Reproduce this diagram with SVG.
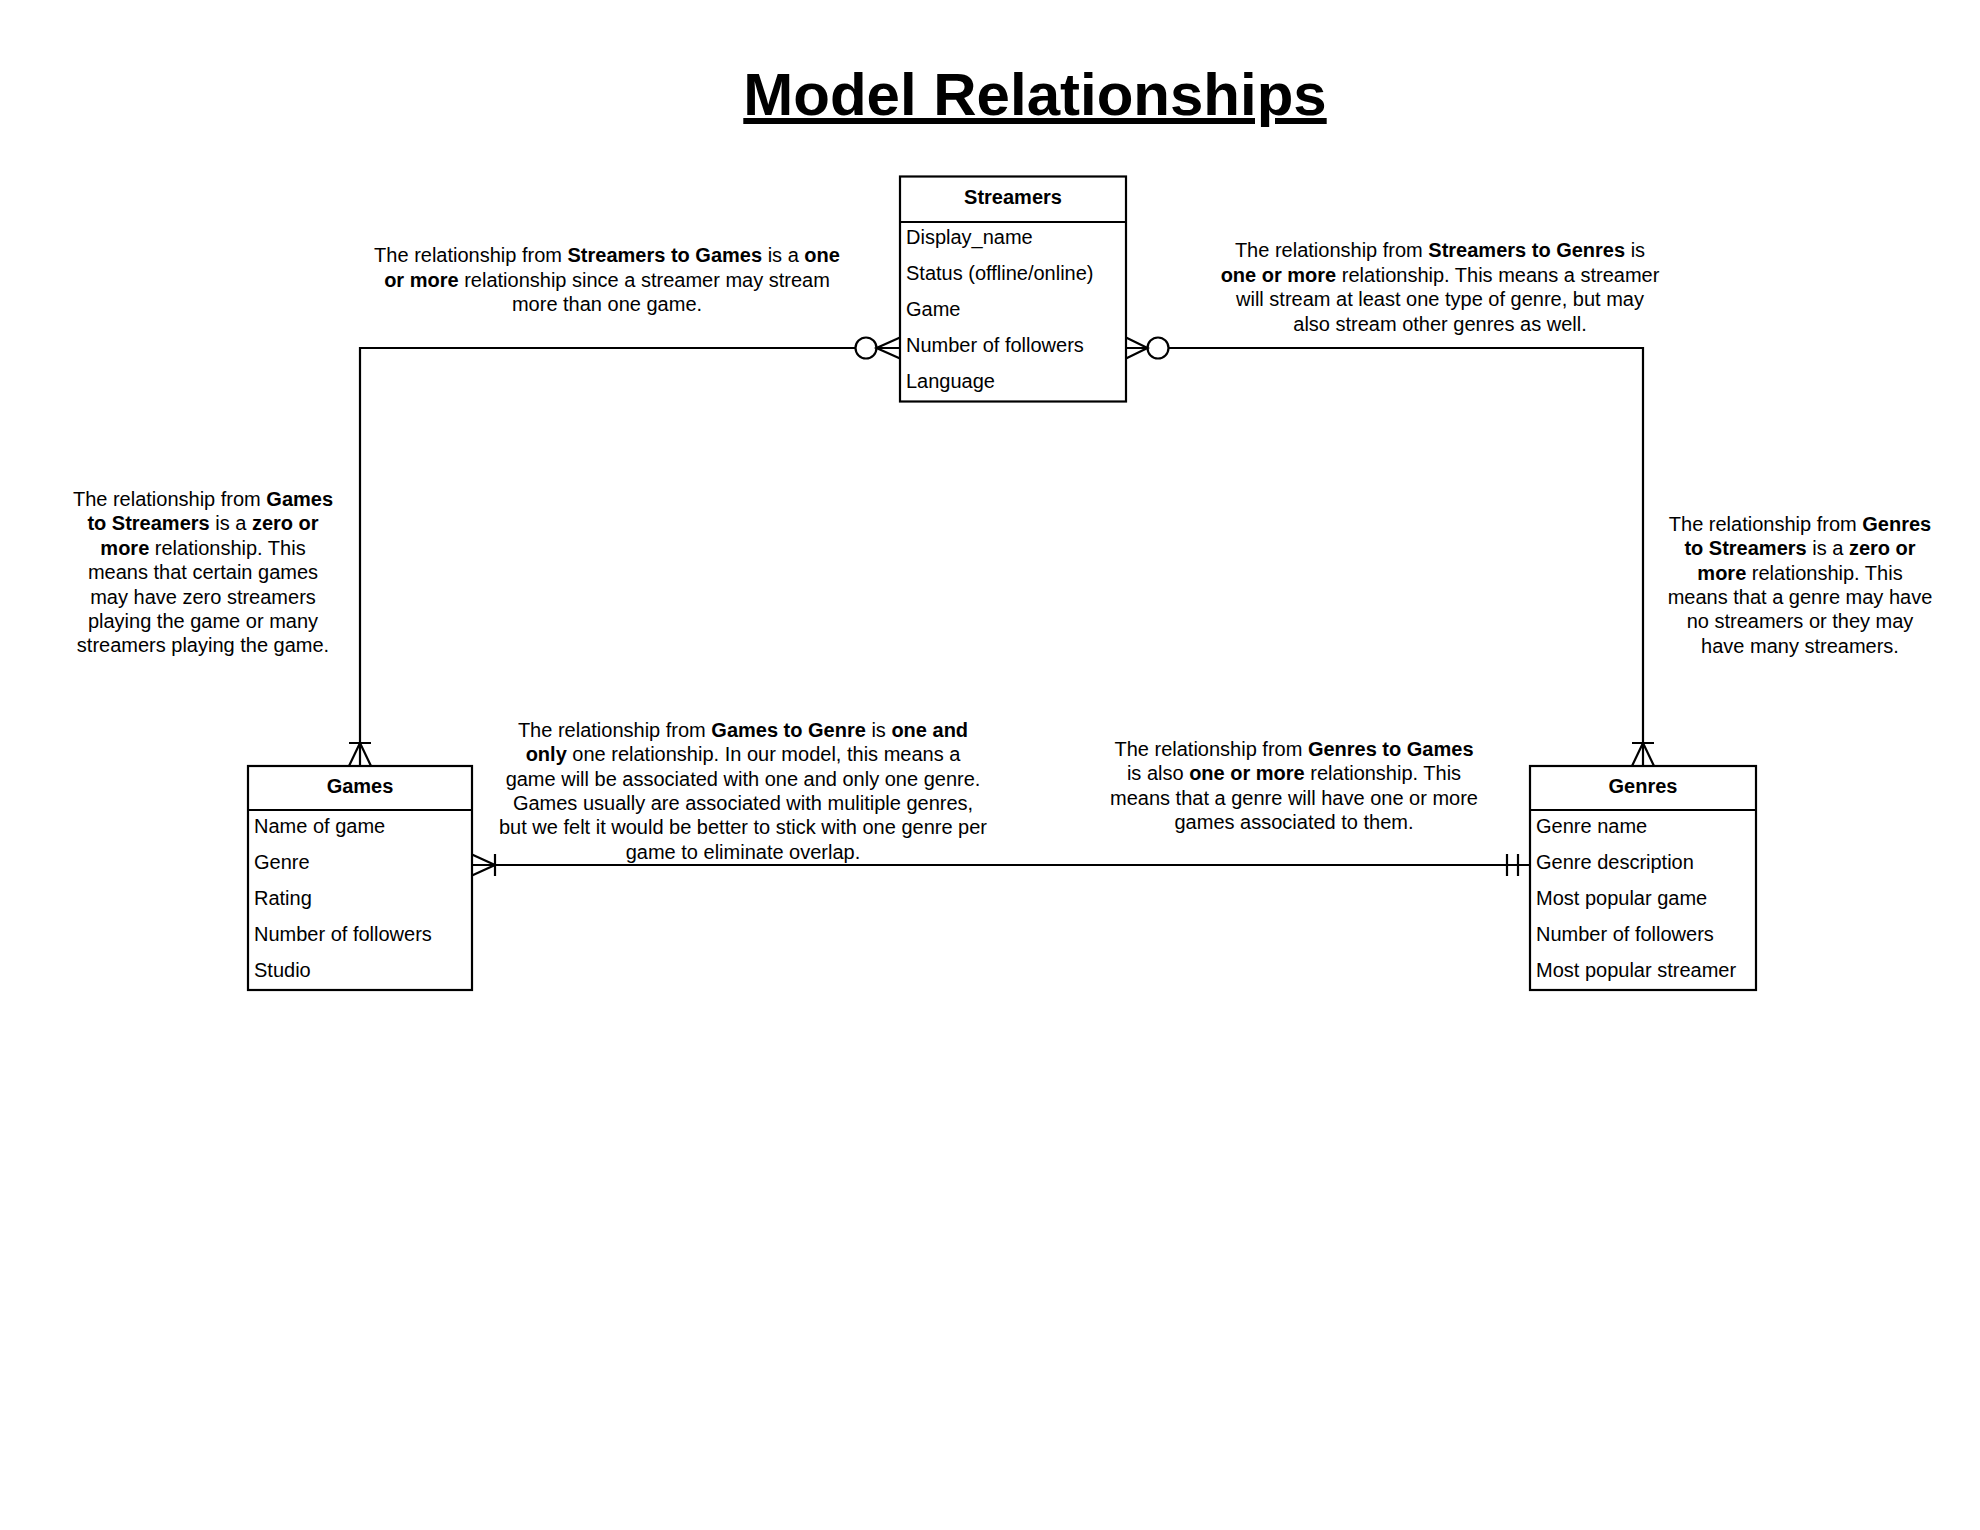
<svg xmlns="http://www.w3.org/2000/svg" width="1980" height="1530" viewBox="0 0 1980 1530">
<style>
text{font-family:"Liberation Sans",Arial,sans-serif;fill:#000}
.t{font-size:20px}
.n{font-size:20px;text-anchor:middle}
.b{font-weight:bold}
.h{font-size:20px;font-weight:bold;text-anchor:middle}
.box{fill:#fff;stroke:#000;stroke-width:2.2}
.ln{fill:none;stroke:#000;stroke-width:2.2}
.title{font-size:60px;font-weight:bold;text-anchor:middle;text-decoration:underline}
</style>
<rect width="1980" height="1530" fill="#fff"/>
<text class="title" x="1035" y="115">Model Relationships</text>

<g id="connectors">
  <!-- Streamers - Games -->
  <path class="ln" d="M855.5 348 H360 V766"/>
  <circle class="ln" cx="866" cy="348" r="10.5"/>
  <path class="ln" d="M900 337.5 L876.5 348 L900 358.5 M876.5 348 H900"/>
  <path class="ln" d="M349 743 H371 M360 743 L349 766 M360 743 L371 766"/>
  <!-- Streamers - Genres -->
  <path class="ln" d="M1168.5 348 H1643 V766"/>
  <circle class="ln" cx="1158" cy="348" r="10.5"/>
  <path class="ln" d="M1126 337.5 L1147.5 348 L1126 358.5 M1126 348 H1147.5"/>
  <path class="ln" d="M1632 743 H1654 M1643 743 L1632 766 M1643 743 L1654 766"/>
  <!-- Games - Genres -->
  <path class="ln" d="M472 865 H1530"/>
  <path class="ln" d="M472 854.5 L495 865 L472 875.5 M495 854 V876"/>
  <path class="ln" d="M1507 854 V876 M1518 854 V876"/>
</g>

<g id="streamers">
  <rect class="box" x="900" y="176.5" width="226" height="225"/>
  <line class="ln" x1="900" y1="222" x2="1126" y2="222"/>
  <text class="h" x="1013" y="204">Streamers</text>
  <text class="t" x="906" y="244">Display_name</text>
  <text class="t" x="906" y="280">Status (offline/online)</text>
  <text class="t" x="906" y="316">Game</text>
  <text class="t" x="906" y="352">Number of followers</text>
  <text class="t" x="906" y="388">Language</text>
</g>

<g id="games">
  <rect class="box" x="248" y="766" width="224" height="224"/>
  <line class="ln" x1="248" y1="810" x2="472" y2="810"/>
  <text class="h" x="360" y="793">Games</text>
  <text class="t" x="254" y="833">Name of game</text>
  <text class="t" x="254" y="869">Genre</text>
  <text class="t" x="254" y="905">Rating</text>
  <text class="t" x="254" y="941">Number of followers</text>
  <text class="t" x="254" y="977">Studio</text>
</g>

<g id="genres">
  <rect class="box" x="1530" y="766" width="226" height="224"/>
  <line class="ln" x1="1530" y1="810" x2="1756" y2="810"/>
  <text class="h" x="1643" y="793">Genres</text>
  <text class="t" x="1536" y="833">Genre name</text>
  <text class="t" x="1536" y="869">Genre description</text>
  <text class="t" x="1536" y="905">Most popular game</text>
  <text class="t" x="1536" y="941">Number of followers</text>
  <text class="t" x="1536" y="977">Most popular streamer</text>
</g>

<g id="note-streamers-games">
  <text class="n" x="607" y="262">The relationship from <tspan class="b">Streamers to Games</tspan> is a <tspan class="b">one</tspan></text>
  <text class="n" x="607" y="286.5"><tspan class="b">or more</tspan> relationship since a streamer may stream</text>
  <text class="n" x="607" y="311">more than one game.</text>
</g>

<g id="note-streamers-genres">
  <text class="n" x="1440" y="257">The relationship from <tspan class="b">Streamers to Genres</tspan> is</text>
  <text class="n" x="1440" y="281.5"><tspan class="b">one or more</tspan> relationship. This means a streamer</text>
  <text class="n" x="1440" y="306">will stream at least one type of genre, but may</text>
  <text class="n" x="1440" y="330.5">also stream other genres as well.</text>
</g>

<g id="note-games-streamers">
  <text class="n" x="203" y="506">The relationship from <tspan class="b">Games</tspan></text>
  <text class="n" x="203" y="530.4"><tspan class="b">to Streamers</tspan> is a <tspan class="b">zero or</tspan></text>
  <text class="n" x="203" y="554.8"><tspan class="b">more</tspan> relationship. This</text>
  <text class="n" x="203" y="579.2">means that certain games</text>
  <text class="n" x="203" y="603.6">may have zero streamers</text>
  <text class="n" x="203" y="628">playing the game or many</text>
  <text class="n" x="203" y="652.4">streamers playing the game.</text>
</g>

<g id="note-genres-streamers">
  <text class="n" x="1800" y="531">The relationship from <tspan class="b">Genres</tspan></text>
  <text class="n" x="1800" y="555.3"><tspan class="b">to Streamers</tspan> is a <tspan class="b">zero or</tspan></text>
  <text class="n" x="1800" y="579.6"><tspan class="b">more</tspan> relationship. This</text>
  <text class="n" x="1800" y="603.9">means that a genre may have</text>
  <text class="n" x="1800" y="628.2">no streamers or they may</text>
  <text class="n" x="1800" y="652.5">have many streamers.</text>
</g>

<g id="note-games-genre">
  <text class="n" x="743" y="737">The relationship from <tspan class="b">Games to Genre</tspan> is <tspan class="b">one and</tspan></text>
  <text class="n" x="743" y="761.3"><tspan class="b">only</tspan> one relationship. In our model, this means a</text>
  <text class="n" x="743" y="785.6">game will be associated with one and only one genre.</text>
  <text class="n" x="743" y="809.9">Games usually are associated with mulitiple genres,</text>
  <text class="n" x="743" y="834.2">but we felt it would be better to stick with one genre per</text>
  <text class="n" x="743" y="858.5">game to eliminate overlap.</text>
</g>

<g id="note-genres-games">
  <text class="n" x="1294" y="756">The relationship from <tspan class="b">Genres to Games</tspan></text>
  <text class="n" x="1294" y="780.3">is also <tspan class="b">one or more</tspan> relationship. This</text>
  <text class="n" x="1294" y="804.6">means that a genre will have one or more</text>
  <text class="n" x="1294" y="828.9">games associated to them.</text>
</g>
</svg>
